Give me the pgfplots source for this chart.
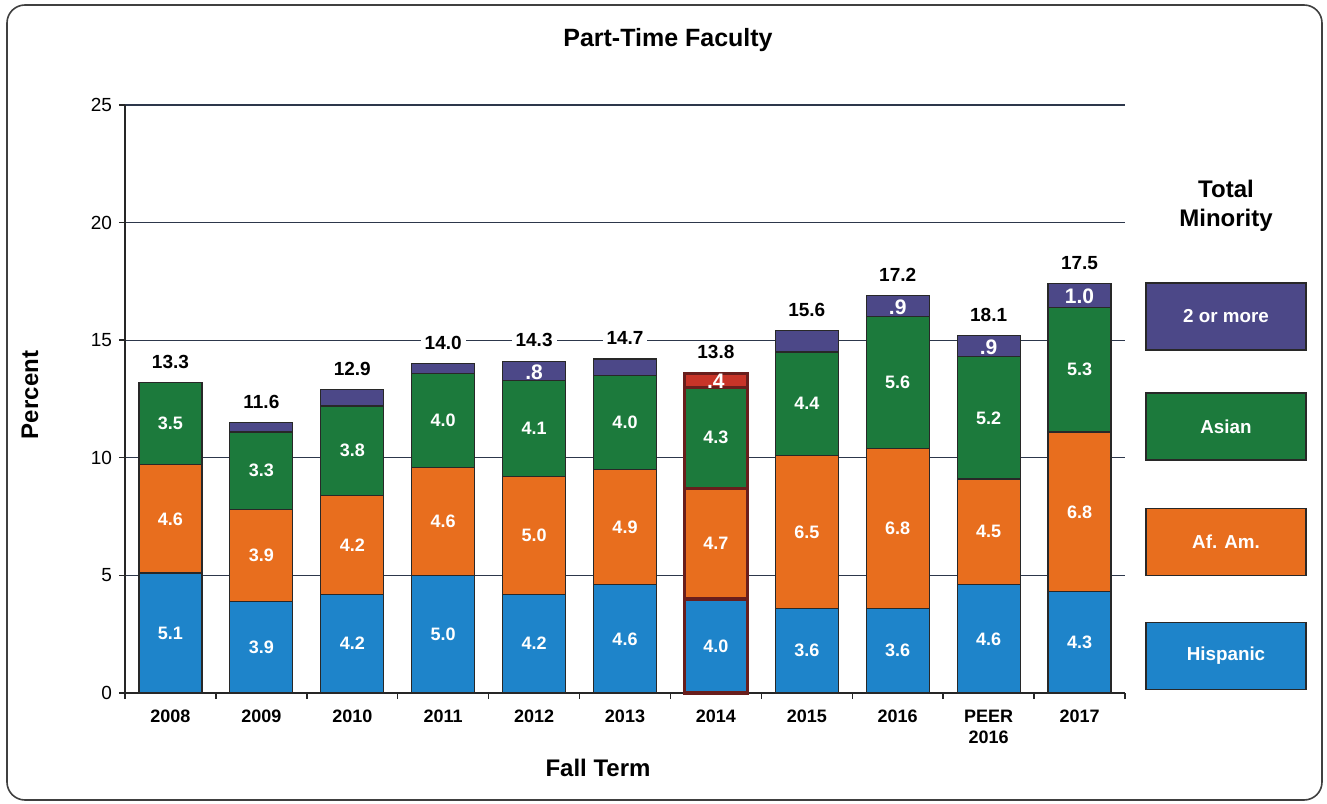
\documentclass[border=0pt]{standalone}
\usepackage{pgfplots}
\usepackage{pgfplotstable}
\pgfplotsset{compat=1.18}
\usepackage{fontspec}
\setmainfont{Liberation Sans}

\definecolor{hispC}{RGB}{30,132,202}
\definecolor{afamC}{RGB}{232,110,30}
\definecolor{asianC}{RGB}{28,122,60}
\definecolor{twoC}{RGB}{76,72,136}
\definecolor{redC}{RGB}{200,52,40}
\definecolor{dredC}{RGB}{105,30,28}
\definecolor{edgeC}{RGB}{40,40,40}
\definecolor{gridC}{RGB}{45,55,75}

\pgfplotstableread{
x hisp afam asian two twoL total
0 5.1 4.6 3.5 0.0 {} 13.3
1 3.9 3.9 3.3 0.4 {} 11.6
2 4.2 4.2 3.8 0.7 {} 12.9
3 5.0 4.6 4.0 0.4 {} 14.0
4 4.2 5.0 4.1 0.8 .8 14.3
5 4.6 4.9 4.0 0.7 {} 14.7
6 4.0 4.7 4.3 0.6 .4 13.8
7 3.6 6.5 4.4 0.9 {} 15.6
8 3.6 6.8 5.6 0.9 .9 17.2
9 4.6 4.5 5.2 0.9 .9 18.1
10 4.3 6.8 5.3 1.0 1.0 17.5
}\data

\pgfplotstableread{
x hisp afam asian two
6 4.0 4.7 4.3 0.6
}\dataB

\pgfplotsset{
  seglabel/.style={
    draw=none, nodes near coords,
    point meta=explicit symbolic,
    every node near coord/.append style={anchor=center,
      text=white, font=\fontsize{9}{10}\selectfont\bfseries},
  },
  commonax/.style={
    scale only axis, width=500pt, height=294pt,
    xmin=-0.5, xmax=10.5, ymin=0, ymax=25,
    bar width=31.5pt,
  },
}

\begin{document}
\begin{tikzpicture}
\useasboundingbox (-62.5pt,-55pt) rectangle (601pt,346.5pt);
\draw[rounded corners=9pt, line width=0.8pt, black!75] (-59pt,-53.5pt) rectangle (598.5pt,344pt);

\begin{axis}[commonax,
  ybar stacked,
  axis x line*=bottom, axis y line*=left,
  axis line style={-, black!85, line width=0.7pt},
  ytick={0,5,...,25},
  ymajorgrids, grid style={gridC, line width=0.6pt},
  xtick={0,...,10},
  xticklabels={2008,2009,2010,2011,2012,2013,2014,2015,2016,{PEER\\2016},2017},
  xticklabel style={align=center, font=\fontsize{9}{10.5}\selectfont\bfseries, yshift=-2pt},
  yticklabel style={font=\fontsize{9.5}{10}\selectfont},
  /pgf/number format/assume math mode=true,
  major x tick style={draw=none},
  minor xtick={-0.5,0.5,...,10.5},
  tick align=outside,
  major tick length=3pt, minor tick length=3pt,
  tick style={black!85, line width=0.7pt},
  clip=false,
]
\addplot[fill=hispC, draw=edgeC, line width=0.6pt] table[x=x, y=hisp] {\data};
\addplot[fill=afamC, draw=edgeC, line width=0.6pt] table[x=x, y=afam] {\data};
\addplot[fill=asianC, draw=edgeC, line width=0.6pt] table[x=x, y=asian] {\data};
\addplot[fill=twoC, draw=edgeC, line width=0.6pt] table[x=x, y=two] {\data};
\end{axis}

% 2014 highlighted bar
\begin{axis}[commonax, ybar stacked, hide axis, clip=false]
\addplot[fill=none, draw=dredC, line width=1.6pt] table[x=x, y=hisp] {\dataB};
\addplot[fill=none, draw=dredC, line width=1.6pt] table[x=x, y=afam] {\dataB};
\addplot[fill=none, draw=dredC, line width=1.6pt] table[x=x, y=asian] {\dataB};
\addplot[fill=redC, draw=dredC, line width=1.6pt] table[x=x, y=two] {\dataB};
\end{axis}

% value labels, centred in each segment
\begin{axis}[commonax, hide axis, clip=false]
\addplot[seglabel] table[x=x, y expr=\thisrow{hisp}/2, meta=hisp] {\data};
\addplot[seglabel] table[x=x, y expr=\thisrow{hisp}+\thisrow{afam}/2, meta=afam] {\data};
\addplot[seglabel] table[x=x, y expr=\thisrow{hisp}+\thisrow{afam}+\thisrow{asian}/2, meta=asian] {\data};
\addplot[seglabel, every node near coord/.append style={font=\fontsize{10.5}{11}\selectfont\bfseries, yshift=-0.5pt}]
  table[x=x, y expr=\thisrow{hisp}+\thisrow{afam}+\thisrow{asian}+\thisrow{two}/2, meta=twoL] {\data};
\addplot[draw=none, nodes near coords, point meta=explicit symbolic,
  every node near coord/.append style={anchor=center, yshift=10.5pt,
    fill=white, inner sep=2pt,
    text=black, font=\fontsize{9.5}{10}\selectfont\bfseries}]
  table[x=x, y expr=\thisrow{hisp}+\thisrow{afam}+\thisrow{asian}+\thisrow{two}, meta=total] {\data};
\end{axis}

% titles and labels
\node[font=\fontsize{12.5}{14}\selectfont\bfseries] at (271.5pt,326.5pt) {Part-Time Faculty};
\node[font=\fontsize{12}{14}\selectfont\bfseries, rotate=90] at (-47.5pt,149pt) {Percent};
\node[font=\fontsize{12}{14}\selectfont\bfseries] at (236.5pt,-37.5pt) {Fall Term};

% legend
\node[font=\fontsize{12}{14.5}\selectfont\bfseries, align=center] at (550.5pt,243.5pt) {Total\\Minority};
\foreach \c/\t/\yc in {twoC/2 or more/188.25, asianC/Asian/133.25, afamC/Af. Am./75.5, hispC/Hispanic/18.5}{
  \node[fill=\c, draw=edgeC, line width=0.8pt, minimum width=80pt, minimum height=33.5pt,
        inner sep=0pt, text=white, font=\fontsize{9.4}{10}\selectfont\bfseries] at (550.5pt,\yc pt) {\t};
}
\end{tikzpicture}
\end{document}
